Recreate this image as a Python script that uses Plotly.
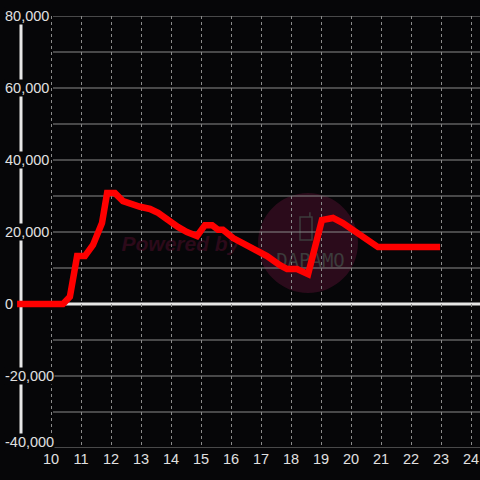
import plotly.graph_objects as go

# ---- data ----
hours = [8.87, 10.4, 10.63, 10.87, 11.13, 11.4, 11.7, 11.87, 12.13, 12.4, 12.97, 13.3, 13.57,
         13.97, 14.23, 14.53, 14.87, 15.13, 15.37, 15.57, 15.73, 16.07, 16.63, 16.9, 17.2,
         17.63, 17.87, 18.2, 18.57, 19.03, 19.4, 19.73, 20.07, 20.47, 20.9, 21.07, 22.97]
values = [0, 0, 2000, 13300, 13300, 16400, 22500, 30800, 30800, 28600, 27000, 26400, 25300,
          22800, 21400, 20000, 18900, 21900, 21900, 20600, 20600, 18300, 15800, 14200, 13300,
          10800, 9700, 9700, 8300, 23300, 23900, 22500, 20600, 18600, 15800, 15800, 15800]
x_ticks = list(range(10, 25))
x_tick_labels = [str(v) for v in x_ticks]
y_grid = list(range(-40000, 80001, 10000))
y_label_vals = [80000, 60000, 40000, 20000, 0, -20000, -40000]
y_label_text = ["80,000", "60,000", "40,000", "20,000", "0", "-20,000", "-40,000"]

BG = "#060608"
GRID = "#8a8a8a"
TXT = "#e0e0e0"
FONT = "Liberation Sans, Arial, sans-serif"

fig = go.Figure()
fig.add_trace(go.Scatter(x=hours, y=values, mode="lines",
                         line=dict(color="#ff0000", width=6.5), hoverinfo="skip"))

shapes = []
# watermark circle
shapes.append(dict(type="circle", xref="x", yref="y", x0=16.9, x1=20.233, y0=3056, y1=30833,
                   fillcolor="#2b0b1b", line=dict(width=0), layer="below"))
# phone icon
shapes.append(dict(type="rect", xref="x", yref="y", x0=18.3, x1=18.7, y0=17778, y1=24167,
                   line=dict(color="#3c3c3c", width=1.5), fillcolor="rgba(0,0,0,0)", layer="below"))
shapes.append(dict(type="line", xref="x", yref="y", x0=18.63, x1=18.63, y0=24167, y1=25500,
                   line=dict(color="#3c3c3c", width=1.5), layer="below"))
# DAPAMO text
shapes.append(dict(type="rect", xref="x", yref="y", x0=17.5, x1=19.8, y0=11000, y1=14000,
                   line=dict(width=0), fillcolor="rgba(0,0,0,0)", layer="below",
                   label=dict(text="DAPAMO", font=dict(family="DejaVu Sans Mono", size=19, color="#3c3c3c"),
                              textposition="middle center")))
# Powered by text
shapes.append(dict(type="rect", xref="x", yref="y", x0=12.15, x1=16.2, y0=15000, y1=20000,
                   line=dict(width=0), fillcolor="rgba(0,0,0,0)", layer="below",
                   label=dict(text="Powered by", font=dict(family=FONT, size=21, color="#2c0a1a",
                                                          weight="bold", style="italic"),
                              textposition="middle left")))
# horizontal gridlines
for v in y_grid:
    shapes.append(dict(type="line", xref="x", yref="y", x0=10.067, x1=24.3, y0=v, y1=v,
                       line=dict(color=GRID, width=1), layer="below"))
# zero line
shapes.append(dict(type="line", xref="x", yref="y", x0=10.067, x1=24.3, y0=0, y1=0,
                   line=dict(color="#e6e6e6", width=3), layer="below"))
# y axis line
shapes.append(dict(type="line", xref="x", yref="y", x0=9.0, x1=9.0, y0=-40000, y1=80000,
                   line=dict(color="#e6e6e6", width=3), layer="below"))

annotations = []
for v, t in zip(y_label_vals, y_label_text):
    annotations.append(dict(xref="paper", yref="y", x=0, y=v, xanchor="left", yanchor="middle",
                            xshift=-11, yshift=6 if v == -40000 else 0,
                            text=t, showarrow=False, bgcolor=BG, borderpad=0,
                            font=dict(family=FONT, size=14.5, color=TXT)))

fig.update_layout(
    width=480, height=480,
    margin=dict(l=15, r=0, t=16, b=32),
    paper_bgcolor=BG, plot_bgcolor=BG,
    showlegend=False,
    shapes=shapes, annotations=annotations,
    xaxis=dict(range=[8.8, 24.3], tickvals=x_ticks, ticktext=x_tick_labels,
               showgrid=True, gridcolor=GRID, gridwidth=1, griddash="3px,3px",
               zeroline=False, showline=False, ticks="",
               tickfont=dict(family=FONT, size=14.5, color=TXT)),
    yaxis=dict(range=[-40000, 80000], showgrid=False, zeroline=False,
               showticklabels=False, showline=False, ticks=""),
)

fig.write_html("out.html", config={"displayModeBar": False},
               post_script="document.body.style.margin='0';document.body.style.padding='0';"
                           "document.body.style.background='" + BG + "';")
